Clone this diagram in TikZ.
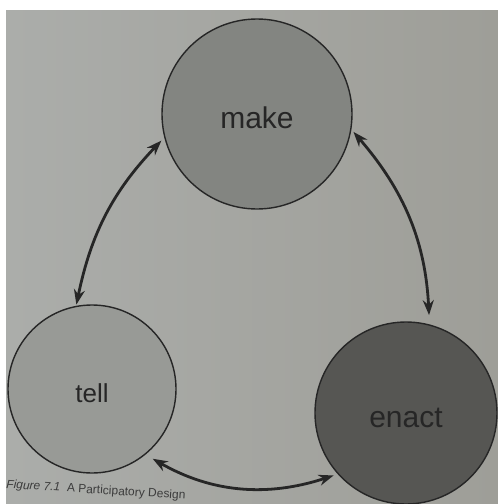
\documentclass[tikz,border=0pt]{standalone}
\usepackage{fontspec}
\setmainfont{Liberation Sans}
\usetikzlibrary{arrows.meta}
\definecolor{paper}{RGB}{171,173,170}
\definecolor{paperR}{RGB}{158,158,152}
\definecolor{paperM}{RGB}{178,180,176}
\definecolor{makefill}{RGB}{131,133,129}
\definecolor{tellfill}{RGB}{152,154,150}
\definecolor{enactfill}{RGB}{86,86,83}
\definecolor{ink}{RGB}{38,38,38}
\tikzset{
  stage/.style={circle, draw=ink, line width=1.4pt, inner sep=0pt, outer sep=0pt,
    text=ink, text height=28pt, text depth=0pt, font=\fontsize{30}{30}\selectfont},
  cycle/.style={{Stealth[length=15pt,width=11pt]}-{Stealth[length=15pt,width=11pt]},
    draw=ink, line width=2.8pt},
  caption/.style={font=\fontsize{12}{13}\selectfont, text=ink!90, anchor=base west, inner sep=0pt}
}
\begin{document}
\begin{tikzpicture}[x=1pt,y=-1pt]
  \useasboundingbox (0,0) rectangle (498,504);
  % photographed page with its white margin
  \fill[white] (0,0) rectangle (498,504);
  \shade[left color=paper, middle color=paperM, right color=paperR] (6,10) rectangle (498,504);

  % the three stages
  \node[stage, fill=makefill, minimum size=190pt] (make) at (257,114) {make};
  \node[stage, fill=tellfill, minimum size=168pt, text height=26pt, font=\fontsize{26}{26}\selectfont] (tell) at (92,389) {tell};
  \node[stage, fill=enactfill, minimum size=182pt] (enact) at (406,413) {enact};

  % two-way links between the stages
  \draw[cycle, shorten <=5pt, shorten >=2pt] (make.194) to[bend right=16] (tell.101);
  \draw[cycle, shorten <=4pt, shorten >=10pt] (make.351) to[bend left=19] (enact.75);
  \draw[cycle, shorten <=9pt, shorten >=5pt] (tell.-51) to[bend right=24] (enact.222);

  % caption line
  \node[caption, rotate=-3.6] (cap) at (6,488) {\textit{Figure 7.1}\; A Participatory Design};
\end{tikzpicture}
\end{document}
